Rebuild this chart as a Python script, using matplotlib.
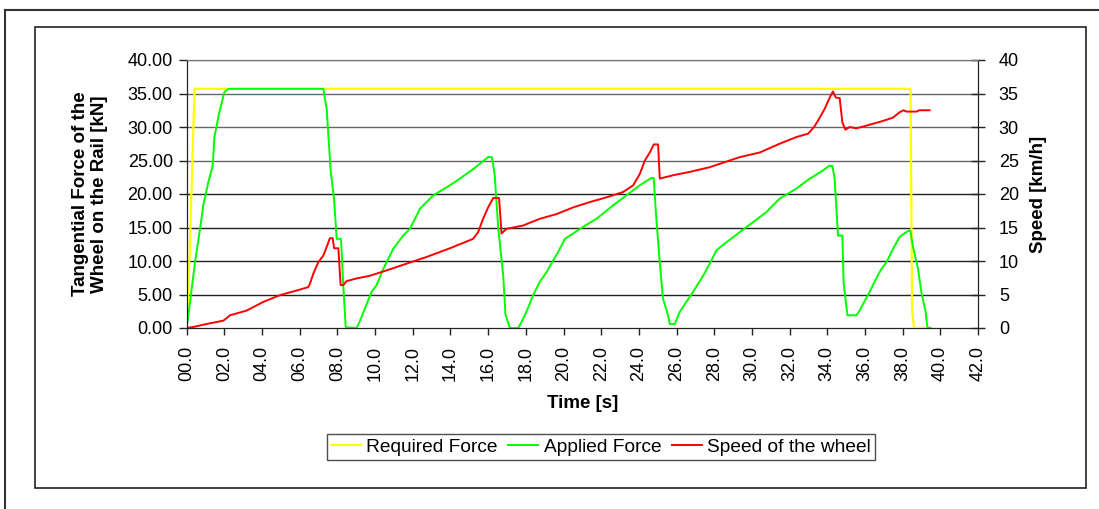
import matplotlib
matplotlib.use("Agg")
import matplotlib.pyplot as plt
from matplotlib.lines import Line2D
from matplotlib.patches import Rectangle

plt.rcParams['font.family'] = ['Liberation Sans', 'DejaVu Sans']

# Required force [kN]
req_t = [0.0, 0.18, 0.30, 0.42, 38.42, 38.5, 38.6, 39.43]
req_f = [0.0, 12.8, 25.0, 35.7, 35.7, 2.9, 0.0, 0.0]

# Applied force [kN]
app_t = [0.0, 0.18, 0.44, 0.71, 0.88, 1.15, 1.38, 1.47, 1.73, 2.0, 2.21, 7.25, 7.43, 7.64,
         7.82, 7.96, 8.19, 8.31, 8.44, 9.02, 9.2, 9.46, 9.81, 10.08, 10.43, 10.96, 11.49,
         11.85, 12.38, 13.09, 13.97, 14.5, 15.2, 16.0, 16.2, 16.35, 16.53, 16.8, 16.92,
         17.15, 17.6, 17.77, 18.03, 18.39, 18.74, 19.09, 19.45, 19.71, 20.07, 20.51, 21.04,
         21.75, 22.63, 23.34, 24.05, 24.67, 24.79, 24.9, 25.1, 25.28, 25.55, 25.64, 25.9,
         26.17, 26.52, 26.88, 27.41, 27.76, 28.12, 28.65, 29.35, 30.06, 30.77, 31.47, 32.36,
         33.07, 33.77, 34.09, 34.27, 34.39, 34.57, 34.8, 34.87, 35.07, 35.54, 35.72, 35.9,
         36.25, 36.6, 36.87, 37.14, 37.49, 37.84, 38.29, 38.41, 38.55, 38.82, 38.99, 39.22,
         39.31, 39.49]
app_f = [0.0, 3.9, 9.8, 14.8, 18.3, 21.8, 24.2, 28.5, 32.2, 35.2, 35.7, 35.7, 32.7, 23.5,
         19.3, 13.3, 13.3, 6.4, 0.1, 0.0, 1.1, 2.9, 5.4, 6.4, 8.8, 11.8, 13.8,
         14.8, 17.8, 19.8, 21.3, 22.3, 23.7, 25.5, 25.5, 22.8, 15.1, 7.8, 2.0,
         0.0, 0.0, 0.9, 2.4, 4.9, 6.9, 8.3, 10.1, 11.3, 13.3, 14.1, 15.1,
         16.3, 18.3, 19.8, 21.3, 22.4, 22.4, 17.3, 10.1, 4.4, 1.9, 0.6, 0.6,
         2.4, 3.9, 5.4, 7.8, 9.6, 11.6, 12.8, 14.3, 15.8, 17.3, 19.3, 20.8,
         22.3, 23.5, 24.2, 24.2, 22.3, 13.8, 13.8, 6.6, 1.9, 1.9, 2.6, 3.6,
         5.4, 7.4, 8.8, 9.8, 11.8, 13.6, 14.5, 14.5, 12.1, 8.8, 5.4, 2.4,
         0.1, 0.0]

# Speed of the wheel [km/h]
spd_t = [0.0, 0.35, 1.06, 1.95, 2.3, 3.18, 4.07, 4.95, 5.84, 6.45, 6.54, 6.72, 6.98, 7.25,
         7.43, 7.6, 7.75, 7.82, 8.05, 8.17, 8.31, 8.49, 9.02, 9.73, 10.61, 11.67, 12.73,
         13.97, 15.2, 15.47, 15.73, 16.0, 16.27, 16.58, 16.71, 16.97, 17.86, 18.74, 19.63,
         20.51, 21.4, 22.28, 23.17, 23.7, 24.05, 24.32, 24.58, 24.79, 25.02, 25.11, 25.82,
         26.7, 27.76, 28.29, 29.35, 30.42, 31.47, 32.36, 32.98, 33.3, 33.56, 33.86, 34.13,
         34.3, 34.45, 34.66, 34.8, 34.96, 35.19, 35.54, 36.07, 36.95, 37.49, 37.84, 38.05,
         38.2, 38.73, 38.9, 39.43]
spd_v = [0.0, 0.15, 0.6, 1.1, 1.9, 2.6, 3.9, 4.9, 5.6, 6.1, 6.6, 8.1, 9.8, 10.8,
         12.1, 13.4, 13.4, 11.9, 11.9, 6.4, 6.4, 7.0, 7.4, 7.8, 8.6, 9.6, 10.6,
         11.9, 13.3, 14.3, 16.3, 18.0, 19.4, 19.4, 14.1, 14.8, 15.3, 16.3, 17.0,
         18.0, 18.8, 19.5, 20.3, 21.3, 23.0, 25.0, 26.2, 27.4, 27.4, 22.3, 22.8,
         23.3, 24.0, 24.5, 25.5, 26.2, 27.5, 28.5, 29.0, 30.0, 31.2, 32.7, 34.4,
         35.3, 34.4, 34.3, 30.7, 29.6, 30.0, 29.8, 30.2, 30.9, 31.4, 32.2, 32.5,
         32.3, 32.3, 32.5, 32.5]

x_ticks = list(range(0, 43, 2))
y_ticks = list(range(0, 41, 5))

W, H = 1099, 509
fig = plt.figure(figsize=(W / 100, H / 100), dpi=100)
fig.patch.set_facecolor('white')

# outer frame lines and inner chart box
fig.add_artist(Line2D([5 / W, 1.0], [1 - 10 / H, 1 - 10 / H], color='#333333', lw=1.5))
fig.add_artist(Line2D([5 / W, 5 / W], [0.0, 1 - 10 / H], color='#333333', lw=1.5))
fig.add_artist(Rectangle((35 / W, 1 - 488 / H), (1086 - 35) / W, (488 - 27) / H,
                         fill=False, edgecolor='#222222', lw=1.2))

ax = fig.add_axes([186.7 / W, 1 - 328 / H, (978 - 186.7) / W, (328 - 60) / H])
ax.set_xlim(0, 42)
ax.set_ylim(0, 40)
for y in y_ticks[1:]:
    ax.axhline(y, color='#666666' if y >= 25 else '#222222', lw=1.0, zorder=1)

ax.plot(req_t, req_f, color='#ffff00', lw=1.6, zorder=3, label='Required Force')
ax.plot(app_t, app_f, color='#00ff00', lw=1.4, zorder=4, label='Applied Force')

ax2 = ax.twinx()
ax2.set_ylim(0, 40)
ax2.plot(spd_t, spd_v, color='#ff0000', lw=1.4, label='Speed of the wheel')

ax.set_xticks(x_ticks)
ax.set_xticklabels([f"{t:04.1f}" for t in x_ticks], rotation=90, fontsize=13)
ax.set_yticks(y_ticks)
ax.set_yticklabels([f"{y:.2f}" for y in y_ticks], fontsize=13)
ax2.set_yticks(y_ticks)
ax2.set_yticklabels([str(y) for y in y_ticks], fontsize=13)

ax.tick_params(axis='x', direction='out', length=5, width=1, color='#222222', pad=8)
ax.tick_params(axis='y', direction='out', length=6, width=1, color='#222222', pad=4)
ax2.tick_params(axis='y', direction='inout', length=10, width=1, color='#222222', pad=10)
for a in (ax, ax2):
    for s in a.spines.values():
        s.set_color('#222222')
ax.spines['top'].set_color('#777777')
ax2.spines['top'].set_color('#777777')

ax.set_xlabel('Time [s]', fontsize=13.5, fontweight='bold')
ax.xaxis.set_label_coords(0.5, (328 - 395) / 268)
ax.set_ylabel('Tangential Force of the\nWheel on the Rail [kN]', fontsize=13.5,
              fontweight='bold', linespacing=1.15)
ax.yaxis.set_label_coords((108 - 186.7) / 791.3, 0.5)
ax2.set_ylabel('Speed [km/h]', fontsize=13.5, fontweight='bold')
ax2.yaxis.set_label_coords((1030 - 186.7) / 791.3, 0.5)

handles = ax.get_lines()[-2:] + ax2.get_lines()
leg = fig.legend(handles, [h.get_label() for h in handles], loc='center', ncol=3,
                 bbox_to_anchor=(601 / W, 1 - 447 / H), fontsize=13.8, frameon=True,
                 fancybox=False, edgecolor='#222222', handlelength=1.55,
                 columnspacing=0.55, handletextpad=0.3, borderpad=0.2)
leg.get_frame().set_linewidth(1.0)

fig.savefig('out.png', dpi=100)
